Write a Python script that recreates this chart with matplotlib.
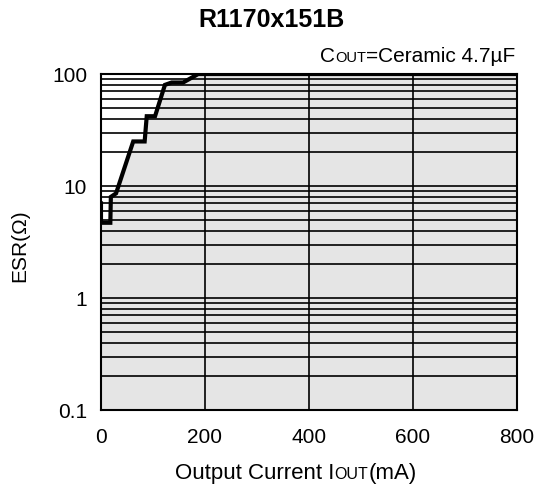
import numpy as np
import matplotlib.pyplot as plt

# stable region boundary (ESR vs output current)
iout = [0, 0, 18, 19, 29, 62, 84, 88, 104, 123, 136, 158, 187, 800]
esr = [7.0, 4.7, 4.7, 8.0, 8.6, 25, 25, 42, 42, 80, 84, 84, 100, 100]
xticks = [0, 200, 400, 600, 800]
yticks = [0.1, 1, 10, 100]
yticklabels = ['0.1', '1', '10', '100']

plt.rcParams['font.family'] = ['Liberation Sans', 'DejaVu Sans']

fig = plt.figure(figsize=(5.47, 4.87), dpi=100)
ax = fig.add_axes([0.1846, 0.158, 0.945 - 0.1846, 0.848 - 0.158])
ax.set_yscale('log')
ax.set_xlim(0, 800)
ax.set_ylim(0.1, 100)

# grey stable region below the curve
ax.fill(iout + [800, 0], esr + [0.1, 0.1], color='#e5e5e5', lw=0, zorder=1)

# grid lines
for dec in [0.1, 1, 10]:
    for m in range(1, 10):
        v = dec * m
        if v > 0.1:
            ax.axhline(v, color='black', lw=1.2, zorder=2)
for xv in [200, 400, 600]:
    ax.axvline(xv, color='black', lw=1.2, zorder=2)

ax.plot(iout, esr, color='black', lw=3, zorder=4, solid_joinstyle='miter')

for s in ax.spines.values():
    s.set_linewidth(1.5)
    s.set_zorder(5)

ax.set_xticks(xticks)
ax.set_xticklabels([str(t) for t in xticks])
ax.set_yticks(yticks)
ax.set_yticklabels(yticklabels)
ax.minorticks_off()
ax.tick_params(length=0, labelsize=15)
ax.tick_params(axis='x', pad=13)
ax.tick_params(axis='y', pad=10)

fig.text(20 / 547, 1 - 246 / 487, 'ESR(Ω)', rotation=90, ha='center', va='center', fontsize=15)

fig.text(271 / 547, 1 - 20 / 487, 'R1170x151B', ha='center', va='center', fontsize=18, fontweight='bold')


def smallcaps_text(parts, x, y, ha='left'):
    # parts: list of (string, size); laid out left to right on a common baseline (figure coords)
    fig.canvas.draw()
    r = fig.canvas.get_renderer()
    widths = []
    for s, size in parts:
        t = fig.text(0, 0, s, fontsize=size, va='baseline')
        widths.append(t.get_window_extent(r).width)
        t.remove()
    total = sum(widths)
    x0, y0 = fig.transFigure.transform((x, y))
    if ha == 'right':
        x0 -= total
    elif ha == 'center':
        x0 -= total / 2
    for (s, size), w in zip(parts, widths):
        fx, fy = fig.transFigure.inverted().transform((x0, y0))
        fig.text(fx, fy, s, fontsize=size, va='baseline')
        x0 += w


smallcaps_text([('C', 15), ('OUT', 10.5), ('=Ceramic 4.7µF', 15)],
               515 / 547, 1 - 62 / 487, ha='right')
smallcaps_text([('Output Current I', 16), ('OUT', 11.5), ('(mA)', 16)],
               296 / 547, 1 - 479 / 487, ha='center')

fig.savefig('out.png', dpi=100)
